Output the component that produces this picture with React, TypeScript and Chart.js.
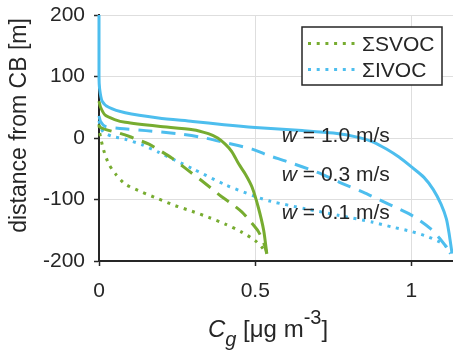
import React, { useEffect, useRef } from "react";
import { Chart, registerables } from "chart.js";

Chart.register(...registerables);

// ---- data ----
const xTicks = [0, 0.5, 1];
const yTicks = [200, 100, 0, -100, -200];
const legendLabels = ["ΣSVOC", "ΣIVOC"];
const speedLabels = ["1.0", "0.3", "0.1"];

// ΣIVOC, w = 1.0 m/s (solid)
const ivocW10Conc = [0, 0, 0.002, 0.01, 0.031, 0.084, 0.19, 0.3, 0.4, 0.5, 0.65, 0.75, 0.83, 0.88, 0.92, 0.96, 1.0, 1.04, 1.07, 1.095, 1.112, 1.122, 1.13];
const ivocW10Dist = [200, 100, 80, 60, 50, 41, 32.5, 27, 21.5, 17, 12, 8, 1, -7, -18, -31, -47, -64, -84, -108, -132, -160, -188];

// ΣIVOC, w = 0.3 m/s (dashed)
const ivocW03Conc = [0, 0.005, 0.02, 0.067, 0.15, 0.25, 0.33, 0.4, 0.49, 0.54, 0.6, 0.7, 0.77, 0.845, 0.9, 0.95, 1.005, 1.06, 1.09, 1.128];
const ivocW03Dist = [36, 27, 19, 15.5, 12, 7, 1, -7, -18, -28, -38, -56, -72, -88, -101, -113, -127, -147, -163, -188];

// ΣIVOC, w = 0.1 m/s (dotted)
const ivocW01Conc = [0, 0.005, 0.015, 0.04, 0.084, 0.138, 0.19, 0.3, 0.404, 0.5, 0.55, 0.66, 0.77, 0.877, 0.94, 1.0, 1.05, 1.09, 1.11, 1.125];
const ivocW01Dist = [28, 18, 9, 3, -2, -11, -23, -50, -76, -95, -103, -115, -126, -137, -145, -152, -160, -169, -176, -188];

// ΣSVOC, w = 1.0 m/s (solid)
const svocW10Conc = [0, 0.005, 0.02, 0.05, 0.084, 0.19, 0.3, 0.35, 0.38, 0.404, 0.425, 0.447, 0.47, 0.49, 0.51, 0.527, 0.537];
const svocW10Dist = [60, 50, 37, 30, 25.5, 19, 13.5, 7, 0, -10, -22, -42, -60, -80, -113, -150, -188];

// ΣSVOC, w = 0.3 m/s (dashed)
const svocW03Conc = [0, 0.005, 0.02, 0.064, 0.1, 0.12, 0.16, 0.2, 0.234, 0.276, 0.33, 0.36, 0.394, 0.425, 0.457, 0.48, 0.51, 0.527, 0.537];
const svocW03Dist = [20, 17, 14, 8, 2, -2, -10, -22, -33, -49, -70, -82, -96, -107, -120, -133, -152, -170, -188];

// ΣSVOC, w = 0.1 m/s (dotted)
const svocW01Conc = [0, 0.002, 0.005, 0.015, 0.031, 0.052, 0.084, 0.138, 0.19, 0.244, 0.297, 0.351, 0.404, 0.457, 0.5, 0.52, 0.537];
const svocW01Dist = [22, 10, 1, -20, -42, -58, -75, -88, -99, -110, -119, -129, -140, -153, -167, -177, -188];

const GREEN = "#77AC30";
const BLUE = "#4DBEEE";
const INK = "#262626";
const FONT = "'Liberation Sans', Arial, Helvetica, sans-serif";

const DOT = [3, 5.7];
const DASH = [14, 9];

function pts(xs: number[], ys: number[]) {
  return xs.map((x, i) => ({ x, y: ys[i] }));
}

function line(label: string, xs: number[], ys: number[], color: string, dash: number[]) {
  return {
    label,
    data: pts(xs, ys),
    showLine: true,
    borderColor: color,
    backgroundColor: color,
    borderWidth: 3,
    borderDash: dash,
    pointRadius: 0,
    pointHoverRadius: 0,
    tension: 0.25,
    fill: false,
    clip: false,
  };
}

const textPlugin = {
  id: "textPlugin",
  afterDraw(chart: any) {
    const ctx = chart.ctx as CanvasRenderingContext2D;
    const xs = chart.scales.x;
    const ys = chart.scales.y;
    ctx.save();
    ctx.fillStyle = INK;
    ctx.textAlign = "left";
    ctx.textBaseline = "alphabetic";

    // y axis title
    ctx.save();
    ctx.translate(26, 125.5);
    ctx.rotate(-Math.PI / 2);
    ctx.textAlign = "center";
    ctx.font = `23px ${FONT}`;
    ctx.fillText("distance from CB [m]", 0, 0);
    ctx.restore();

    // x axis title: C_g [μg m^-3]
    let x = 208;
    const base = 337;
    ctx.font = `italic 24px ${FONT}`;
    ctx.fillText("C", x, base);
    x += ctx.measureText("C").width;
    ctx.font = `italic 20px ${FONT}`;
    ctx.fillText("g", x, base + 9);
    x += ctx.measureText("g").width;
    ctx.font = `24px ${FONT}`;
    ctx.fillText(" [μg m", x, base);
    x += ctx.measureText(" [μg m").width;
    ctx.font = `20px ${FONT}`;
    ctx.fillText("-3", x, base - 13);
    x += ctx.measureText("-3").width;
    ctx.font = `24px ${FONT}`;
    ctx.fillText("]", x, base);

    // annotations
    const annX = xs.getPixelForValue(0.585);
    const annY = [-7, -70, -131];
    speedLabels.forEach((s, i) => {
      const yb = ys.getPixelForValue(annY[i]);
      let ax = annX;
      ctx.font = `italic 21px ${FONT}`;
      ctx.fillText("w", ax, yb);
      ax += ctx.measureText("w").width;
      ctx.font = `21px ${FONT}`;
      ctx.fillText(` = ${s} m/s`, ax, yb);
    });

    // legend
    const lx = 302, ly = 27, lw = 140, lh = 58;
    ctx.fillStyle = "#ffffff";
    ctx.fillRect(lx, ly, lw, lh);
    ctx.strokeStyle = INK;
    ctx.lineWidth = 1.5;
    ctx.strokeRect(lx, ly, lw, lh);
    const rows = [43.5, 69.5];
    const cols = [GREEN, BLUE];
    legendLabels.forEach((lab, i) => {
      ctx.save();
      ctx.strokeStyle = cols[i];
      ctx.lineWidth = 3;
      ctx.setLineDash(DOT);
      ctx.beginPath();
      ctx.moveTo(308, rows[i]);
      ctx.lineTo(356, rows[i]);
      ctx.stroke();
      ctx.restore();
      ctx.fillStyle = INK;
      ctx.font = `21px ${FONT}`;
      ctx.fillText(lab, 362, rows[i] + 7.5);
    });
    ctx.restore();
  },
};

export default function App() {
  const ref = useRef<HTMLCanvasElement | null>(null);

  useEffect(() => {
    document.body.style.margin = "0";
    const canvas = ref.current;
    if (!canvas) return;
    const chart = new Chart(canvas, {
      type: "scatter",
      data: {
        datasets: [
          line("IVOC w=1.0", ivocW10Conc, ivocW10Dist, BLUE, []),
          line("SVOC w=1.0", svocW10Conc, svocW10Dist, GREEN, []),
          line("IVOC w=0.3", ivocW03Conc, ivocW03Dist, BLUE, DASH),
          line("SVOC w=0.3", svocW03Conc, svocW03Dist, GREEN, DASH),
          line("IVOC w=0.1", ivocW01Conc, ivocW01Dist, BLUE, DOT),
          line("SVOC w=0.1", svocW01Conc, svocW01Dist, GREEN, DOT),
        ] as any,
      },
      options: {
        animation: false,
        responsive: false,
        maintainAspectRatio: false,
        devicePixelRatio: 1,
        layout: { padding: { top: 15, left: 0, right: 0, bottom: 0 } },
        plugins: {
          legend: { display: false },
          tooltip: { enabled: false },
          title: { display: false },
        },
        scales: {
          x: {
            type: "linear",
            min: 0,
            max: 1.133,
            afterFit: (s: any) => {
              s.height = 100;
              s.paddingLeft = 0;
              s.paddingRight = 0;
            },
            afterBuildTicks: (s: any) => {
              s.ticks = xTicks.map((v) => ({ value: v }));
            },
            ticks: {
              color: INK,
              font: { family: FONT, size: 21 },
              padding: 13,
              maxRotation: 0,
              callback: (v: any) => String(v),
            },
            grid: {
              color: "#dedede",
              lineWidth: 1,
              drawTicks: true,
              tickLength: 5,
              tickColor: INK,
              tickWidth: 1.5,
            },
            border: { display: true, color: INK, width: 2 },
          },
          y: {
            type: "linear",
            min: -200,
            max: 200,
            afterFit: (s: any) => {
              s.width = 99;
              s.paddingTop = 0;
              s.paddingBottom = 0;
            },
            afterBuildTicks: (s: any) => {
              s.ticks = yTicks.map((v) => ({ value: v }));
            },
            ticks: {
              color: INK,
              font: { family: FONT, size: 21 },
              padding: 9,
              callback: (v: any) => String(v),
            },
            grid: {
              color: "#dedede",
              lineWidth: 1,
              drawTicks: true,
              tickLength: 5,
              tickColor: INK,
              tickWidth: 1.5,
            },
            border: { display: true, color: INK, width: 2 },
          },
        },
      },
      plugins: [textPlugin],
    });
    return () => chart.destroy();
  }, []);

  return (
    <div style={{ width: 453, height: 361, position: "relative", background: "#fff" }}>
      <canvas ref={ref} width={453} height={361} style={{ display: "block" }} />
    </div>
  );
}
